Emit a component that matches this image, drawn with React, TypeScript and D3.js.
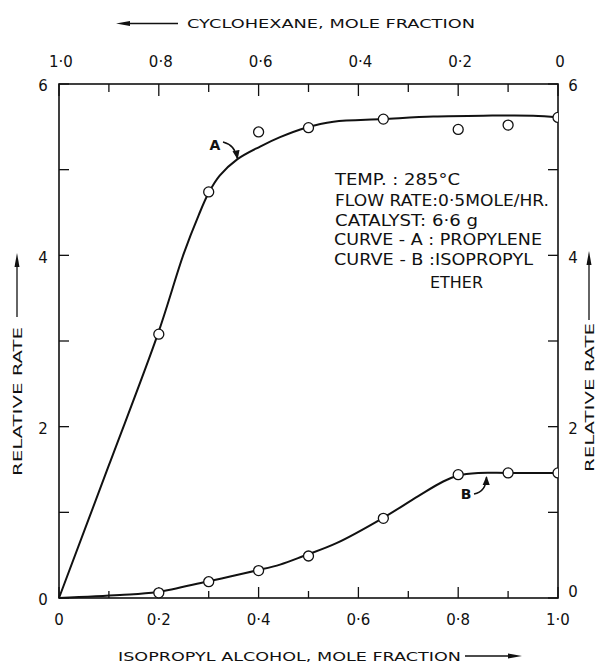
import React from "react";
import * as d3 from "d3";

const W = 597;
const H = 667;

// ---- data ----
const xMinorValues = [0.1, 0.3, 0.5, 0.7, 0.9];
const xMajorValues = [0, 0.2, 0.4, 0.6, 0.8, 1.0];
const xMajorLabels = ["0", "0·2", "0·4", "0·6", "0·8", "1·0"];
const topMajorValues = [1.0, 0.8, 0.6, 0.4, 0.2, 0];
const topMajorLabels = ["1·0", "0·8", "0·6", "0·4", "0·2", "0"];
const yMajorValues = [0, 2, 4, 6];
const yMajorLabels = ["0", "2", "4", "6"];
const yMinorValues = [1, 3, 5];

const pointX = [0.2, 0.3, 0.4, 0.5, 0.65, 0.8, 0.9, 1.0];
const pointsA = [3.08, 4.74, 5.44, 5.49, 5.59, 5.47, 5.52, 5.61];
const pointsB = [0.06, 0.19, 0.32, 0.49, 0.93, 1.44, 1.46, 1.46];

const curveAx = [0, 0.1, 0.198, 0.25, 0.28, 0.3, 0.322, 0.357, 0.403, 0.443, 0.495, 0.55, 0.649, 0.75, 0.85, 0.95, 1.0];
const curveAy = [0, 1.55, 3.08, 4.02, 4.47, 4.73, 4.93, 5.12, 5.27, 5.38, 5.49, 5.56, 5.59, 5.62, 5.63, 5.63, 5.61];
const curveBx = [0, 0.122, 0.197, 0.295, 0.343, 0.395, 0.443, 0.49, 0.556, 0.648, 0.72, 0.77, 0.8, 0.84, 0.9, 1.0];
const curveBy = [0, 0.035, 0.07, 0.19, 0.25, 0.32, 0.39, 0.49, 0.64, 0.93, 1.19, 1.36, 1.43, 1.46, 1.46, 1.46];

const noteLines = [
  "TEMP. : 285°C",
  "FLOW RATE:0·5MOLE/HR.",
  "CATALYST: 6·6 g",
  "CURVE - A : PROPYLENE",
  "CURVE - B :ISOPROPYL",
  "ETHER",
];

const topTitle = "CYCLOHEXANE, MOLE FRACTION";
const bottomTitle = "ISOPROPYL ALCOHOL, MOLE FRACTION";
const yTitle = "RELATIVE RATE";

export default function App() {
  const x = d3.scaleLinear().domain([0, 1]).range([59, 558]);
  const y = d3.scaleLinear().domain([0, 6]).range([598, 84]);
  const font = "'DejaVu Sans', 'Liberation Sans', sans-serif";
  const ink = "#111";

  const line = d3
    .line<[number, number]>()
    .x((d) => x(d[0]))
    .y((d) => y(d[1]))
    .curve(d3.curveCatmullRom.alpha(0.5));

  const pathA = line(curveAx.map((v, i) => [v, curveAy[i]]) as [number, number][]) || "";
  const pathB = line(curveBx.map((v, i) => [v, curveBy[i]]) as [number, number][]) || "";

  const x0 = x(0), x1 = x(1), yb = y(0), yt = y(6);

  const noteX = [335, 335, 335, 334, 334, 430];
  const noteY = [185, 205.5, 225.5, 245, 265, 288];
  const noteW = [125, 214, 143, 208, 199, 53];

  return (
    <svg
      width={W}
      height={H}
      viewBox={`0 0 ${W} ${H}`}
      style={{ position: "absolute", left: 0, top: 0, background: "#fff" }}
    >
      <defs>
        <clipPath id="plotClip">
          <rect x={x0} y={yt - 10} width={x1 - x0} height={yb - yt + 20} />
        </clipPath>
        <marker id="ah" viewBox="0 0 10 10" refX="9" refY="5" markerWidth="6" markerHeight="6" orient="auto">
          <path d="M0,1 L10,5 L0,9 Z" fill={ink} />
        </marker>
      </defs>
      <rect x={0} y={0} width={W} height={H} fill="#fff" />

      {/* frame */}
      <rect x={x0} y={yt} width={x1 - x0} height={yb - yt} fill="none" stroke={ink} strokeWidth={1.6} />

      {/* bottom ticks */}
      {xMajorValues.map((v, i) => (
        <line key={"bM" + i} x1={x(v)} x2={x(v)} y1={yb} y2={yb - 11} stroke={ink} strokeWidth={1.3} />
      ))}
      {xMinorValues.map((v, i) => (
        <line key={"bm" + i} x1={x(v)} x2={x(v)} y1={yb} y2={yb - 7} stroke={ink} strokeWidth={1.3} />
      ))}
      {/* top ticks */}
      {topMajorValues.map((v, i) => (
        <line key={"tM" + i} x1={x(1 - v)} x2={x(1 - v)} y1={yt} y2={yt + 12} stroke={ink} strokeWidth={1.3} />
      ))}
      {xMinorValues.map((v, i) => (
        <line key={"tm" + i} x1={x(v)} x2={x(v)} y1={yt} y2={yt + 8} stroke={ink} strokeWidth={1.3} />
      ))}
      {/* left / right ticks */}
      {yMajorValues.concat(yMinorValues).map((v, i) => (
        <g key={"y" + i}>
          <line x1={x0} x2={x0 + 10} y1={y(v)} y2={y(v)} stroke={ink} strokeWidth={1.3} />
          <line x1={x1} x2={x1 - 10} y1={y(v)} y2={y(v)} stroke={ink} strokeWidth={1.3} />
        </g>
      ))}

      {/* tick labels */}
      <g fontFamily={font} fontSize={15} fill={ink} textAnchor="middle">
        {xMajorValues.map((v, i) => (
          <text key={"bl" + i} x={x(v)} y={620} dy="0.35em">{xMajorLabels[i]}</text>
        ))}
        {topMajorValues.map((v, i) => (
          <text key={"tl" + i} x={x(1 - v) + 2} y={62} dy="0.35em">{topMajorLabels[i]}</text>
        ))}
        {yMajorValues.map((v, i) => (
          <text key={"ll" + i} x={43} y={y(v) + 2} dy="0.35em">{yMajorLabels[i]}</text>
        ))}
        {yMajorValues.map((v, i) => (
          <text key={"rl" + i} x={573} y={y(v) + (v === 0 ? -6 : 2)} dy="0.35em">{yMajorLabels[i]}</text>
        ))}
      </g>

      {/* curves */}
      <path d={pathA} fill="none" stroke={ink} strokeWidth={2} />
      <path d={pathB} fill="none" stroke={ink} strokeWidth={2} />

      {/* points */}
      <g clipPath="url(#plotClip)">
        {pointX.map((v, i) => (
          <circle key={"pa" + i} cx={x(v)} cy={y(pointsA[i])} r={5} fill="#fff" stroke={ink} strokeWidth={1.3} />
        ))}
        {pointX.map((v, i) => (
          <circle key={"pb" + i} cx={x(v)} cy={y(pointsB[i])} r={5} fill="#fff" stroke={ink} strokeWidth={1.3} />
        ))}
      </g>

      {/* curve labels */}
      <g fontFamily={font} fontSize={14} fill={ink} fontWeight="bold" textAnchor="middle">
        <text x={215} y={145} dy="0.35em">A</text>
        <text x={466} y={494} dy="0.35em">B</text>
      </g>
      <path d="M223,142 Q235,145 237.5,158.5" fill="none" stroke={ink} strokeWidth={1.5} markerEnd="url(#ah)" />
      <path d="M474,494 Q486,492 486.5,477" fill="none" stroke={ink} strokeWidth={1.5} markerEnd="url(#ah)" />

      {/* annotation */}
      <g fontFamily={font} fontSize={15} fill={ink}>
        {noteLines.map((t, i) => (
          <text key={"n" + i} x={noteX[i]} y={noteY[i]} textLength={noteW[i]} lengthAdjust="spacingAndGlyphs">
            {t}
          </text>
        ))}
      </g>

      {/* axis titles */}
      <g fontFamily={font} fontSize={13} fill={ink}>
        <text x={187} y={28} textLength={288} lengthAdjust="spacingAndGlyphs">{topTitle}</text>
        <text x={118} y={661} textLength={343} lengthAdjust="spacingAndGlyphs">{bottomTitle}</text>
        <text transform="translate(22,476) rotate(-90)" textLength={149} lengthAdjust="spacingAndGlyphs">{yTitle}</text>
        <text transform="translate(594,472) rotate(-90)" textLength={149} lengthAdjust="spacingAndGlyphs">{yTitle}</text>
      </g>

      {/* title arrows */}
      <line x1={126} x2={178} y1={23.5} y2={23.5} stroke={ink} strokeWidth={1.3} />
      <path d="M116,23.5 L130,21 L130,26 Z" fill={ink} />
      <line x1={465} x2={512} y1={656} y2={656} stroke={ink} strokeWidth={1.3} />
      <path d="M522,656 L508,653.5 L508,658.5 Z" fill={ink} />
      <line x1={17} x2={17} y1={317} y2={264} stroke={ink} strokeWidth={1.3} />
      <path d="M17,253 L14.5,267 L19.5,267 Z" fill={ink} />
      <line x1={589} x2={589} y1={320} y2={262} stroke={ink} strokeWidth={1.3} />
      <path d="M589,251 L586.5,265 L591.5,265 Z" fill={ink} />
    </svg>
  );
}
